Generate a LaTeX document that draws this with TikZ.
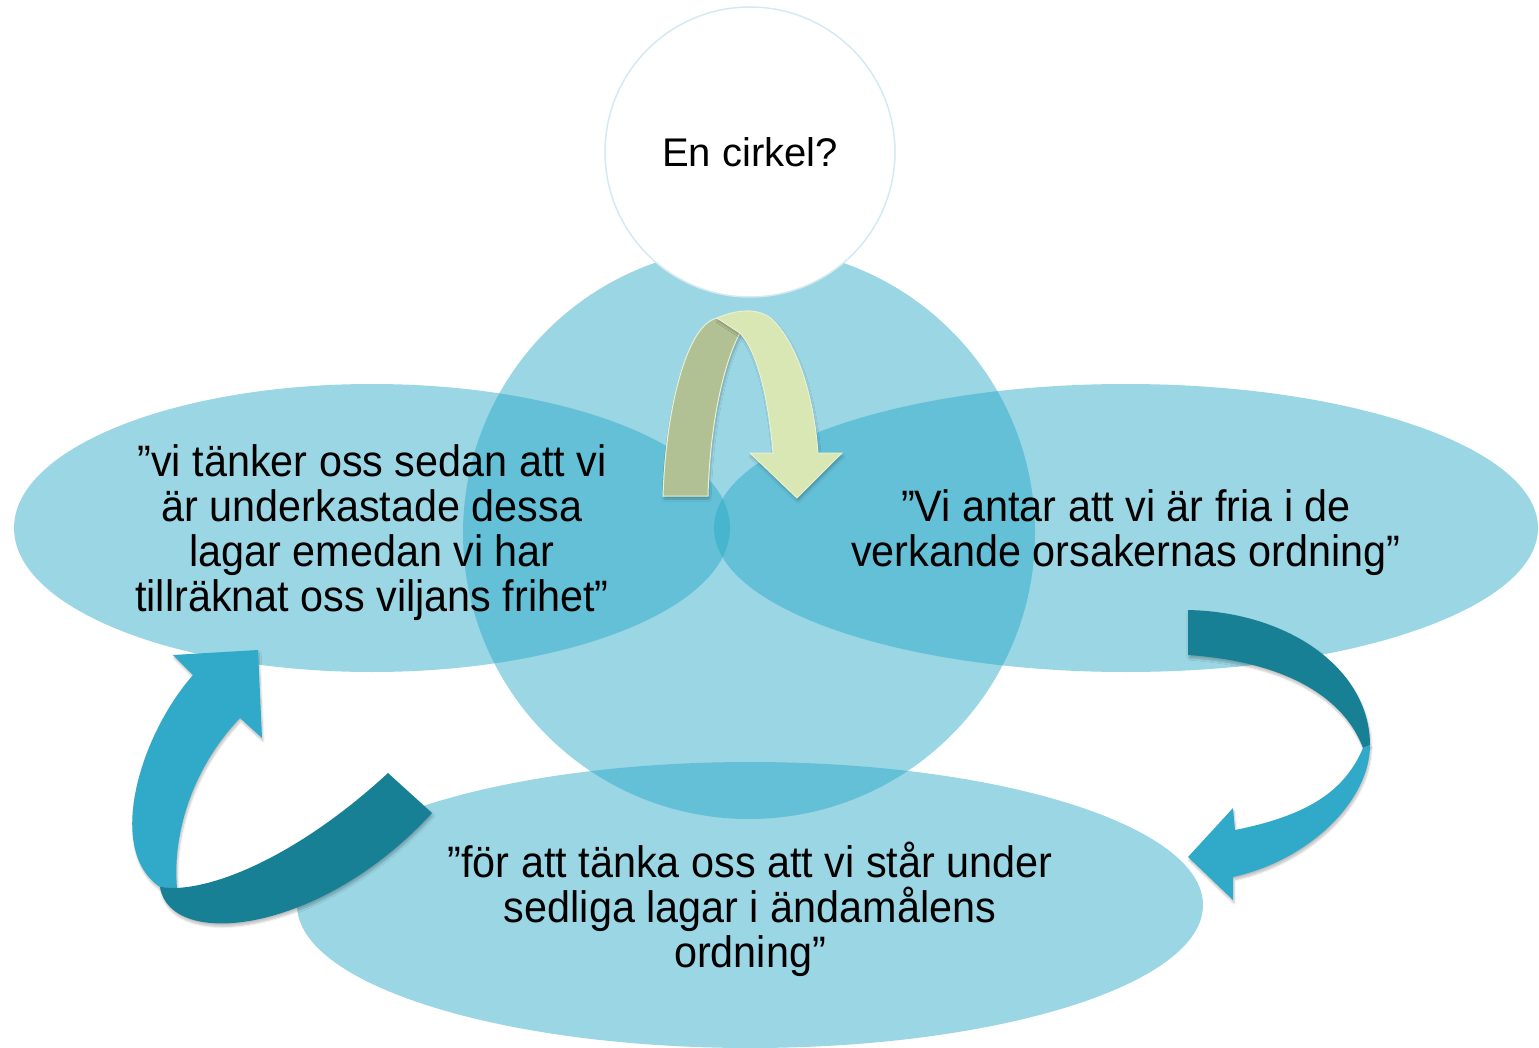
\documentclass[tikz,border=0pt]{standalone}
\usepackage{fontspec}
\setmainfont{Liberation Sans}
\newfontfamily\citat{Liberation Sans}[FakeStretch=0.94]
\usepackage{tikz}
\usetikzlibrary{shapes.geometric}
\usetikzlibrary{shadows.blur}
\definecolor{hav}{RGB}{40,168,198}
\definecolor{havmork}{RGB}{24,128,148}
\definecolor{havljus}{RGB}{48,170,200}
\definecolor{olivmork}{RGB}{178,193,148}
\definecolor{olivljus}{RGB}{217,231,181}
\definecolor{kant}{RGB}{212,234,242}
\tikzstyle{bubble}=[ellipse,inner sep=0pt,fill=hav,fill opacity=0.47]
\tikzstyle{citattext}=[align=center,font=\citat\fontsize{44}{45}\selectfont]
\tikzstyle{ring}=[circle,inner sep=0pt,fill=hav,fill opacity=0.47]
\tikzstyle{fraga}=[circle,inner sep=0pt,fill=white,draw=kant,line width=1.5pt,font=\fontsize{40}{45}\selectfont]
\tikzstyle{band}=[draw=none,blur shadow={shadow xshift=1pt,shadow yshift=-3pt,shadow opacity=25,shadow blur steps=6}]

\begin{document}
\begin{tikzpicture}[x=1pt,y=-1pt]
	\useasboundingbox (0,0) rectangle (1539,1048);

	\node[ring, minimum size=572pt] (krets) at (749,533) {};

	\node[bubble, minimum width=716pt, minimum height=288pt] (vilja) at (372,528) {};
	\node[bubble, minimum width=824pt, minimum height=288pt] (orsak) at (1126,528) {};
	\node[bubble, minimum width=906pt, minimum height=286pt] (andamal) at (750,905) {};

	\node[citattext] (viljatext) at ([yshift=-5pt]vilja.center)
	{”vi tänker oss sedan att vi\\är underkastade dessa\\lagar emedan vi har\\tillräknat oss viljans frihet”};
	\node[citattext] (orsaktext) at ([yshift=-5pt]orsak.center)
	{”Vi antar att vi är fria i de\\verkande orsakernas ordning”};
	\node[citattext] (andamaltext) at ([yshift=-4pt]andamal.center)
	{”för att tänka oss att vi står under\\sedliga lagar i ändamålens\\ordning”};

	\node[fraga, minimum size=290pt] (cirkel) at (750,152) {En cirkel?};

% % % gron pil
	\path[band, fill=olivmork, draw=olivljus!60!white, line width=1pt]
	(663,496) .. controls (666,410) and (684,345) .. (705,325)
	.. controls (709,321) and (713,319) .. (717,318)
	-- (740,333) .. controls (725,360) and (710,420) .. (708,496) -- cycle;
	\path[band, fill=olivljus, draw=olivljus!60!white, line width=1pt]
	(717,318) .. controls (740,308) and (762,308) .. (775,322)
	.. controls (800,350) and (814,400) .. (818,453)
	-- (842,453) -- (797,498) -- (750,453) -- (773,453)
	.. controls (768,395) and (757,352) .. (740,333) -- cycle;

% % % hoger pil
	\path[band, fill=havmork]
	(1188,610) .. controls (1290,612) and (1370,670) .. (1370,745)
	-- (1363,748) .. controls (1345,700) and (1290,662) .. (1188,655) -- cycle;
	\path[band, fill=havljus]
	(1370,745) .. controls (1370,800) and (1310,860) .. (1233,877)
	-- (1233,900) -- (1188,857) -- (1233,808) -- (1235,830)
	.. controls (1310,815) and (1345,790) .. (1363,748) -- cycle;

% % % vanster pil
	\path[band, fill=havljus]
	(193,675) .. controls (140,735) and (105,850) .. (160,887)
	-- (177,888) .. controls (172,830) and (195,765) .. (240,718)
	-- (262,738) -- (258,650) -- (173,655) -- cycle;
	\path[band, fill=havmork]
	(160,887) .. controls (170,950) and (320,935) .. (432,813)
	-- (388,773) .. controls (310,845) and (230,885) .. (177,888) -- cycle;
\end{tikzpicture}
\end{document}
